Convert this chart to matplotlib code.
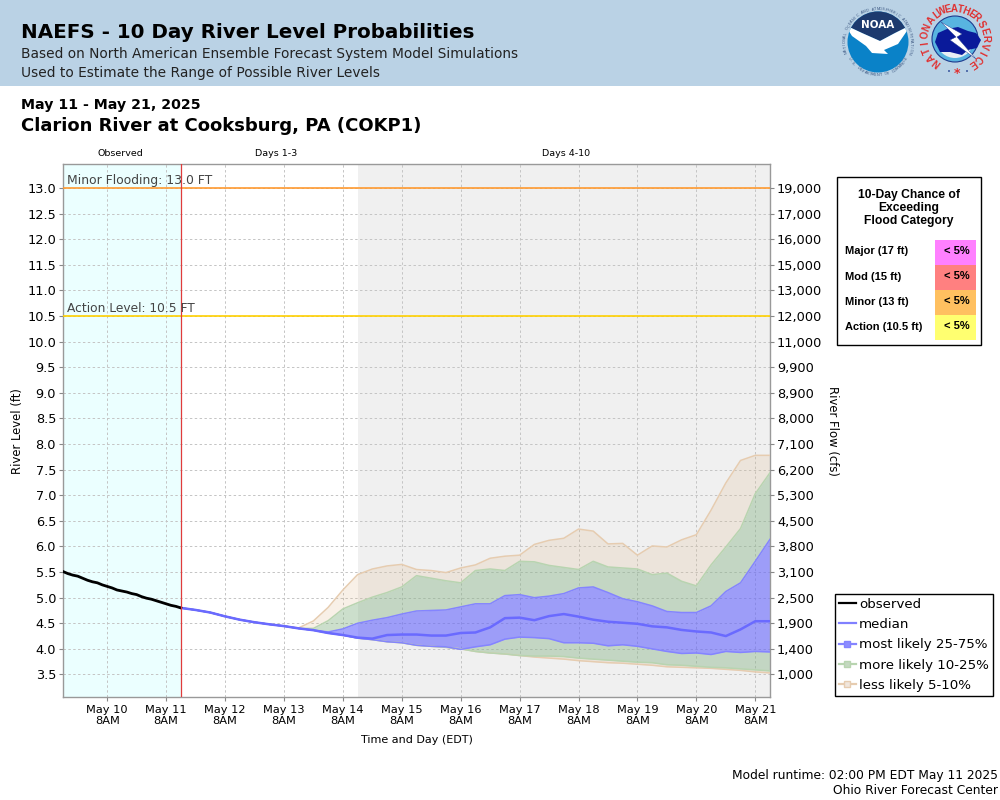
import numpy as np
import pandas as pd
import matplotlib
matplotlib.use('Agg')
import matplotlib.pyplot as plt
import matplotlib.dates as mdates
from matplotlib.lines import Line2D
from matplotlib.patches import Rectangle, Circle, Polygon, Wedge

# river levels (ft)
observed = [5.51, 5.47, 5.44, 5.42, 5.38, 5.34, 5.31, 5.29, 5.25, 5.22, 5.19, 5.15, 5.13,
            5.11, 5.08, 5.06, 5.02, 4.99, 4.97, 4.94, 4.91, 4.88, 4.85, 4.83, 4.80]
median = [4.80, 4.76, 4.71, 4.635, 4.57, 4.52, 4.48, 4.445, 4.40, 4.365, 4.31, 4.27, 4.22, 4.20,
          4.27, 4.28, 4.28, 4.26, 4.26, 4.31, 4.32, 4.42, 4.60, 4.61, 4.56, 4.64, 4.68, 4.63,
          4.57, 4.53, 4.51, 4.49, 4.44, 4.42, 4.37, 4.34, 4.32, 4.25, 4.38, 4.54, 4.54]
p75 = [4.80, 4.76, 4.71, 4.635, 4.57, 4.52, 4.48, 4.445, 4.40, 4.365, 4.33, 4.39, 4.50, 4.56,
       4.61, 4.68, 4.74, 4.75, 4.76, 4.82, 4.88, 4.88, 5.04, 5.06, 5.00, 5.03, 5.08, 5.19,
       5.21, 5.10, 4.98, 4.92, 4.84, 4.73, 4.71, 4.71, 4.84, 5.12, 5.29, 5.71, 6.14]
p25 = [4.80, 4.76, 4.71, 4.635, 4.57, 4.52, 4.48, 4.445, 4.40, 4.365, 4.31, 4.27, 4.21, 4.18,
       4.14, 4.12, 4.07, 4.05, 4.04, 3.99, 4.04, 4.08, 4.19, 4.23, 4.22, 4.20, 4.12, 4.12,
       4.11, 4.06, 4.08, 4.05, 4.00, 3.95, 3.91, 3.92, 3.89, 3.95, 3.93, 3.95, 3.94]
p90 = [4.80, 4.76, 4.71, 4.635, 4.57, 4.52, 4.48, 4.445, 4.40, 4.40, 4.55, 4.78, 4.90, 5.01,
       5.10, 5.21, 5.43, 5.38, 5.33, 5.29, 5.53, 5.56, 5.53, 5.71, 5.70, 5.63, 5.59, 5.55,
       5.71, 5.60, 5.58, 5.56, 5.45, 5.48, 5.32, 5.23, 5.64, 5.99, 6.35, 7.03, 7.44]
p10 = [4.80, 4.76, 4.71, 4.635, 4.57, 4.52, 4.48, 4.445, 4.40, 4.365, 4.31, 4.27, 4.21, 4.18,
       4.14, 4.12, 4.07, 4.05, 4.03, 4.00, 3.95, 3.92, 3.90, 3.87, 3.86, 3.86, 3.85, 3.82,
       3.80, 3.78, 3.76, 3.74, 3.73, 3.69, 3.68, 3.66, 3.64, 3.63, 3.61, 3.59, 3.57]
p95 = [4.80, 4.76, 4.71, 4.635, 4.57, 4.52, 4.48, 4.445, 4.41, 4.545, 4.81, 5.15, 5.45, 5.56,
       5.62, 5.65, 5.55, 5.53, 5.49, 5.58, 5.64, 5.77, 5.81, 5.83, 6.04, 6.12, 6.16, 6.34,
       6.30, 6.05, 6.06, 5.83, 6.01, 5.99, 6.13, 6.23, 6.71, 7.24, 7.68, 7.78, 7.78]
p5 = [4.80, 4.76, 4.71, 4.635, 4.57, 4.52, 4.48, 4.445, 4.40, 4.365, 4.31, 4.27, 4.21, 4.18,
      4.14, 4.12, 4.07, 4.05, 4.03, 4.00, 3.95, 3.92, 3.90, 3.87, 3.84, 3.82, 3.80, 3.77,
      3.75, 3.73, 3.72, 3.70, 3.68, 3.65, 3.64, 3.63, 3.62, 3.60, 3.58, 3.55, 3.53]

stage_ticks = [3.5, 4.0, 4.5, 5.0, 5.5, 6.0, 6.5, 7.0, 7.5, 8.0, 8.5, 9.0, 9.5, 10.0,
               10.5, 11.0, 11.5, 12.0, 12.5, 13.0]
flow_labels = ['1,000', '1,400', '1,900', '2,500', '3,100', '3,800', '4,500', '5,300', '6,200',
               '7,100', '8,000', '8,900', '9,900', '11,000', '12,000', '13,000', '15,000',
               '16,000', '17,000', '19,000']
categories = ['Major (17 ft)', 'Mod (15 ft)', 'Minor (13 ft)', 'Action (10.5 ft)']
chances = ['< 5%', '< 5%', '< 5%', '< 5%']
cat_colors = ['#ff80ff', '#ff8080', '#ffc060', '#ffff70']

t_obs = pd.date_range('2025-05-09 14:00', '2025-05-11 14:00', periods=len(observed))
t_fc = pd.date_range('2025-05-11 14:00', '2025-05-21 14:00', periods=len(median))
t_start = pd.Timestamp('2025-05-09 14:00')
t_now = pd.Timestamp('2025-05-11 14:00')
t_gray = pd.Timestamp('2025-05-14 14:00')
t_end = pd.Timestamp('2025-05-21 14:00')
xticks = pd.date_range('2025-05-10 08:00', '2025-05-21 08:00', freq='D')

W, H = 1000, 800
fig = plt.figure(figsize=(10, 8), dpi=100)

# page level stuff in pixel coords
fa = fig.add_axes([0, 0, 1, 1])
fa.set_xlim(0, W)
fa.set_ylim(H, 0)
fa.axis('off')
fa.add_patch(Rectangle((0, 0), W, 86, color='#bad2e5', lw=0))

fa.text(21, 33, 'NAEFS - 10 Day River Level Probabilities', fontsize=14.35, fontweight='bold', va='center')
fa.text(21, 54, 'Based on North American Ensemble Forecast System Model Simulations', fontsize=9.95, va='center', color='#222222')
fa.text(21, 73, 'Used to Estimate the Range of Possible River Levels', fontsize=9.95, va='center', color='#222222')
fa.text(21, 105, 'May 11 - May 21, 2025', fontsize=10.2, fontweight='bold', va='center')
fa.text(21, 126, 'Clarion River at Cooksburg, PA (COKP1)', fontsize=12.95, fontweight='bold', va='center')

fa.text(120, 154, 'Observed', fontsize=6.8, ha='center', va='center')
fa.text(276, 154, 'Days 1-3', fontsize=6.8, ha='center', va='center')
fa.text(566, 154, 'Days 4-10', fontsize=6.8, ha='center', va='center')

fa.text(18, 431, 'River Level (ft)', fontsize=8.4, rotation=90, ha='center', va='center')
fa.text(832, 431, 'River Flow (cfs)', fontsize=8.4, rotation=270, ha='center', va='center')
fa.text(417, 740, 'Time and Day (EDT)', fontsize=8.0, ha='center', va='center')
fa.text(998, 775, 'Model runtime: 02:00 PM EDT May 11 2025', fontsize=8.8, ha='right', va='center')
fa.text(998, 791, 'Ohio River Forecast Center', fontsize=8.8, ha='right', va='center')


def ring_text(s, cx, cy, r, a0, a1, size, color, weight='normal'):
    # one rotated letter at a time, angles in degrees clockwise from the top
    for ch, a in zip(s, np.linspace(a0, a1, len(s))):
        rad = np.radians(a)
        fa.text(cx + r * np.sin(rad), cy - r * np.cos(rad), ch, fontsize=size, color=color,
                rotation=-a, ha='center', va='center', fontweight=weight, family='Liberation Sans')


def ring_text_bottom(s, cx, cy, r, a0, a1, size, color):
    # same but letters upright along the lower arc
    for ch, a in zip(s, np.linspace(a0, a1, len(s))):
        rad = np.radians(a)
        fa.text(cx + r * np.sin(rad), cy - r * np.cos(rad), ch, fontsize=size, color=color,
                rotation=180 - a, ha='center', va='center', family='Liberation Sans')


# NOAA logo
disc = Circle((878, 42), 30.5, fc='#0a82c8', ec='none')
fa.add_patch(disc)
navy = Polygon([[845, 5], [911, 5], [911, 25], [895, 33], [880, 41], [862, 33], [845, 25]], fc='#1d3a6e', ec='none')
bird = Polygon([[845, 25], [862, 33], [880, 41], [895, 33], [911, 25], [898, 44], [884, 50], [888, 54],
                [872, 53], [866, 46], [852, 36]], fc='white', ec='none')
fa.add_patch(navy)
fa.add_patch(bird)
navy.set_clip_path(disc)
bird.set_clip_path(disc)
fa.text(878, 25, 'NOAA', fontsize=7.5, fontweight='bold', color='white', ha='center', va='center', family='DejaVu Sans')
ring_text('NATIONAL OCEANIC AND ATMOSPHERIC ADMINISTRATION', 878, 42, 33, -108, 108, 2.7, '#3a5580')
ring_text_bottom('U.S. DEPARTMENT OF COMMERCE', 878, 42, 33, 240, 120, 2.7, '#3a5580')

# NWS logo
fa.add_patch(Circle((955, 39), 23, fc='#58b4e0', ec='#1d3a8e', lw=0.8))
fa.add_patch(Wedge((955, 39), 19, 10, 170, fc='#e8eef4', ec='none'))
fa.add_patch(Polygon([[935, 42], [938, 33], [947, 29], [958, 27], [968, 31], [976, 33], [981, 40], [977, 48],
                      [968, 50], [962, 55], [950, 52], [940, 52]], fc='#0a1a9a', ec='none'))
fa.add_patch(Polygon([[941, 22], [962, 34], [957, 37], [976, 59], [950, 40], [956, 37]], fc='white', ec='#1d3a8e', lw=0.3))
ring_text('NATIONAL', 955, 39, 30, -142, -37, 7, '#e03030', 'bold')
ring_text('WEATHER', 955, 39, 30, -25, 45, 7, '#e03030', 'bold')
ring_text('SERVICE', 955, 39, 30, 60, 145, 7, '#e03030', 'bold')
fa.text(957, 73, '*', fontsize=9, color='#e03030', ha='center', va='center', fontweight='bold')
fa.add_patch(Circle((949, 71), 0.9, fc='#1d3a8e', ec='none'))
fa.add_patch(Circle((967, 71), 0.9, fc='#1d3a8e', ec='none'))

# flood category box
fa.add_patch(Rectangle((836.5, 176.5), 144, 168.5, fc='white', ec='black', lw=1))
fa.text(909, 208, '10-Day Chance of\nExceeding\nFlood Category', fontsize=8.75, fontweight='bold', ha='center',
        va='center', family='Liberation Sans', linespacing=1.15)
cell_h = 25.1
for i, (cat, ch, col) in enumerate(zip(categories, chances, cat_colors)):
    y0 = 240 + i * cell_h
    fa.add_patch(Rectangle((935, y0), 41, cell_h, fc=col, ec='none'))
    fa.text(845, y0 + 11.5, cat, fontsize=8.0, fontweight='bold', va='center', family='Liberation Sans')
    fa.text(957, y0 + 11, ch, fontsize=8.0, fontweight='bold', ha='center', va='center', family='Liberation Sans')

# main axes
left, right, top, bottom = 63, 770, 164, 697
ax = fig.add_axes([left / W, 1 - bottom / H, (right - left) / W, (bottom - top) / H])
ax.set_xlim(t_start, t_end)
ax.set_ylim(3.06, 13.47)
ax.axvspan(t_start, t_now, color='#ebffff', lw=0, zorder=0)
ax.axvspan(t_gray, t_end, color='#f0f0f0', lw=0, zorder=0)

ax.set_yticks(stage_ticks)
ax.set_yticklabels([f'{v:.1f}' for v in stage_ticks])
ax.set_xticks(xticks)
ax.set_xticklabels([d.strftime('%b %d').replace(' 0', ' ') + '\n8AM' for d in xticks], linespacing=1.05)
ax.tick_params(axis='y', labelsize=9.3, length=3, color='#888888', pad=2)
ax.tick_params(axis='x', labelsize=8.2, length=3, color='#888888', pad=3)
ax.grid(True, ls=(0, (2.5, 2.5)), color='#c4c4c4', lw=0.7, zorder=1)
ax.set_axisbelow(True)
for s in ax.spines.values():
    s.set_color('#999999')
    s.set_linewidth(1.0)

ax.fill_between(t_fc, p5, p10, color='#deb887', alpha=0.2, lw=0, zorder=2)
ax.fill_between(t_fc, p90, p95, color='#deb887', alpha=0.2, lw=0, zorder=2)
ax.fill_between(t_fc, p10, p25, color='#80b080', alpha=0.4, lw=0, zorder=2.1)
ax.fill_between(t_fc, p75, p90, color='#80b080', alpha=0.4, lw=0, zorder=2.1)
ax.fill_between(t_fc, p25, p75, color='#5a5aff', alpha=0.55, lw=0, zorder=2.2)
ax.plot(t_fc, p5, color='#e6ccb0', lw=1.1, zorder=3)
ax.plot(t_fc, p95, color='#e6ccb0', lw=1.1, zorder=3)
ax.plot(t_fc, p10, color='#b8d4b0', lw=1.1, zorder=3.1)
ax.plot(t_fc, p90, color='#b8d4b0', lw=1.1, zorder=3.1)
ax.plot(t_fc, p25, color='#8484ff', lw=1.1, zorder=3.2)
ax.plot(t_fc, p75, color='#8484ff', lw=1.1, zorder=3.2)
ax.plot(t_fc, median, color='#6a6aff', lw=1.8, zorder=4)
ax.plot(t_obs, observed, color='black', lw=2, zorder=5)

ax.axvline(t_now, color='#e03c3c', lw=0.9, zorder=6)
ax.axhline(13.0, color='#ff9a30', lw=1.2, zorder=3)
ax.axhline(10.5, color='#ffd000', lw=1.2, zorder=3)
ax.text(mdates.date2num(t_start) + 0.06, 13.02, 'Minor Flooding: 13.0 FT', fontsize=8.9, color='#444444', va='bottom', zorder=7)
ax.text(mdates.date2num(t_start) + 0.06, 10.52, 'Action Level: 10.5 FT', fontsize=8.85, color='#444444', va='bottom', zorder=7)

ax2 = ax.twinx()
ax2.set_ylim(ax.get_ylim())
ax2.set_yticks(stage_ticks)
ax2.set_yticklabels(flow_labels)
ax2.tick_params(axis='y', labelsize=9.3, length=3, color='#888888', pad=2)
for s in ax2.spines.values():
    s.set_visible(False)

handles = [
    Line2D([], [], color='black', lw=1.6),
    Line2D([], [], color='#8080ff', lw=1.6),
    Line2D([], [], color='#8484ff', lw=1.6, marker='s', ms=5, mfc='#8c8cff', mec='#8484ff'),
    Line2D([], [], color='#b8d4b0', lw=1.6, marker='s', ms=5, mfc='#c4d8c0', mec='#b8d4b0'),
    Line2D([], [], color='#e6ccb0', lw=1.6, marker='s', ms=5, mfc='#f0e6dc', mec='#e6ccb0'),
]
fig.legend(handles, ['observed', 'median', 'most likely 25-75%', 'more likely 10-25%', 'less likely 5-10%'],
           loc='lower left', bbox_to_anchor=(835 / W, 1 - 696 / H), borderaxespad=0, fontsize=9.6,
           frameon=True, fancybox=False, edgecolor='black', framealpha=1, labelspacing=0.55,
           handlelength=1.25, handletextpad=0.25, borderpad=0.3)

fig.savefig('out.png', dpi=100)
